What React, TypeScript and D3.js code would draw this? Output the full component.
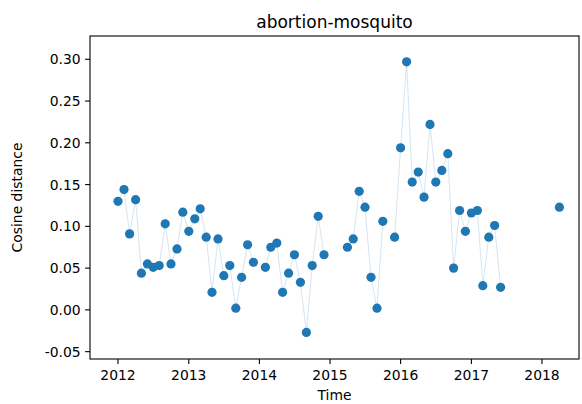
import { useEffect, useRef } from "react"
import * as d3 from "d3"

// monthly cosine distance, missing months left out (line breaks across them)
const months = [
  "2012-01", "2012-02", "2012-03", "2012-04", "2012-05", "2012-06",
  "2012-07", "2012-08", "2012-09", "2012-10", "2012-11", "2012-12",
  "2013-01", "2013-02", "2013-03", "2013-04", "2013-05", "2013-06",
  "2013-07", "2013-08", "2013-09", "2013-10", "2013-11", "2013-12",
  "2014-02", "2014-03", "2014-04", "2014-05", "2014-06", "2014-07",
  "2014-08", "2014-09", "2014-10", "2014-11", "2014-12",
  "2015-04", "2015-05", "2015-06", "2015-07", "2015-08", "2015-09",
  "2015-10", "2015-12",
  "2016-01", "2016-02", "2016-03", "2016-04", "2016-05", "2016-06",
  "2016-07", "2016-08", "2016-09", "2016-10", "2016-11", "2016-12",
  "2017-01", "2017-02", "2017-03", "2017-04", "2017-05", "2017-06",
  "2018-04",
]

const distances = [
  0.130, 0.144, 0.091, 0.132, 0.044, 0.055, 0.051, 0.053, 0.103, 0.055, 0.073, 0.117,
  0.094, 0.109, 0.121, 0.087, 0.021, 0.085, 0.041, 0.053, 0.002, 0.039, 0.078, 0.057,
  0.051, 0.075, 0.080, 0.021, 0.044, 0.066, 0.033, -0.027, 0.053, 0.112, 0.066,
  0.075, 0.085, 0.142, 0.123, 0.039, 0.002, 0.106, 0.087,
  0.194, 0.297, 0.153, 0.165, 0.135, 0.222, 0.153, 0.167, 0.187, 0.050, 0.119, 0.094,
  0.116, 0.119, 0.029, 0.087, 0.101, 0.027,
  0.123,
]

const yTicks = [-0.05, 0, 0.05, 0.1, 0.15, 0.2, 0.25, 0.3]
const yDomain: [number, number] = [-0.0588, 0.3279]

const TITLE = "abortion-mosquito"
const X_LABEL = "Time"
const Y_LABEL = "Cosine distance"

const W = 582
const H = 404
const FONT = "'DejaVu Sans', sans-serif"

export default function App() {
  const svgRef = useRef<SVGSVGElement>(null)

  useEffect(() => {
    document.body.style.margin = "0"
    const svg = d3.select(svgRef.current!)
    svg.selectAll("*").remove()

    const left = 90
    const right = 579
    const top = 36
    const bottom = 359

    const parse = d3.timeParse("%Y-%m")
    const points = months.map((m, i) => ({ date: parse(m)!, value: distances[i] }))

    // 2012 tick sits at 118px, 2018 at 542px; extend to the axes edges
    const base = d3
      .scaleTime()
      .domain([new Date(2012, 0, 1), new Date(2018, 0, 1)])
      .range([118, 542])
    const x = d3.scaleTime().domain([base.invert(left), base.invert(right)]).range([left, right])
    const y = d3.scaleLinear().domain(yDomain).range([bottom, top])

    // split into runs of consecutive months
    const runs: (typeof points)[] = []
    points.forEach((p, i) => {
      const prev = points[i - 1]
      if (prev && d3.timeMonth.count(prev.date, p.date) === 1) runs[runs.length - 1].push(p)
      else runs.push([p])
    })

    const line = d3
      .line<(typeof points)[number]>()
      .x((d) => x(d.date))
      .y((d) => y(d.value))

    svg
      .append("g")
      .selectAll("path")
      .data(runs.filter((r) => r.length > 1))
      .enter()
      .append("path")
      .attr("d", (d) => line(d))
      .attr("fill", "none")
      .attr("stroke", "#1f77b4")
      .attr("stroke-opacity", 0.28)
      .attr("stroke-width", 0.7)

    svg
      .append("g")
      .selectAll("circle")
      .data(points)
      .enter()
      .append("circle")
      .attr("cx", (d) => x(d.date))
      .attr("cy", (d) => y(d.value))
      .attr("r", 4.6)
      .attr("fill", "#1f77b4")

    // spines
    svg
      .append("rect")
      .attr("x", left)
      .attr("y", top)
      .attr("width", right - left)
      .attr("height", bottom - top)
      .attr("fill", "none")
      .attr("stroke", "#000")
      .attr("stroke-width", 1.1)

    const tickLen = 4.9

    // x axis ticks
    const xTicks = x.ticks(d3.timeYear.every(1)!)
    const xg = svg.append("g")
    xTicks.forEach((t) => {
      const px = x(t)
      xg.append("line")
        .attr("x1", px)
        .attr("x2", px)
        .attr("y1", bottom)
        .attr("y2", bottom + tickLen)
        .attr("stroke", "#000")
        .attr("stroke-width", 1.1)
      xg.append("text")
        .attr("x", px)
        .attr("y", bottom + 21)
        .attr("text-anchor", "middle")
        .attr("font-family", FONT)
        .attr("font-size", 13.9)
        .attr("fill", "#000")
        .text(d3.timeFormat("%Y")(t))
    })

    // y axis ticks (plain hyphen for the minus sign)
    const fmt = (v: number) => d3.format(".2f")(v).replace("\u2212", "-")
    const yg = svg.append("g")
    yTicks.forEach((t) => {
      const py = y(t)
      yg.append("line")
        .attr("x1", left - tickLen)
        .attr("x2", left)
        .attr("y1", py)
        .attr("y2", py)
        .attr("stroke", "#000")
        .attr("stroke-width", 1.1)
      yg.append("text")
        .attr("x", left - tickLen - 4.5)
        .attr("y", py)
        .attr("dy", "0.36em")
        .attr("text-anchor", "end")
        .attr("font-family", FONT)
        .attr("font-size", 13.9)
        .attr("fill", "#000")
        .text(fmt(t))
    })

    svg
      .append("text")
      .attr("x", (left + right) / 2)
      .attr("y", 28)
      .attr("text-anchor", "middle")
      .attr("font-family", FONT)
      .attr("font-size", 17)
      .attr("fill", "#000")
      .text(TITLE)

    svg
      .append("text")
      .attr("x", (left + right) / 2)
      .attr("y", 400)
      .attr("text-anchor", "middle")
      .attr("font-family", FONT)
      .attr("font-size", 13.9)
      .attr("fill", "#000")
      .text(X_LABEL)

    svg
      .append("text")
      .attr("transform", `translate(22,${(top + bottom) / 2}) rotate(-90)`)
      .attr("text-anchor", "middle")
      .attr("font-family", FONT)
      .attr("font-size", 13.9)
      .attr("fill", "#000")
      .text(Y_LABEL)
  }, [])

  return <svg ref={svgRef} width={W} height={H} style={{ display: "block", background: "#fff" }} />
}
